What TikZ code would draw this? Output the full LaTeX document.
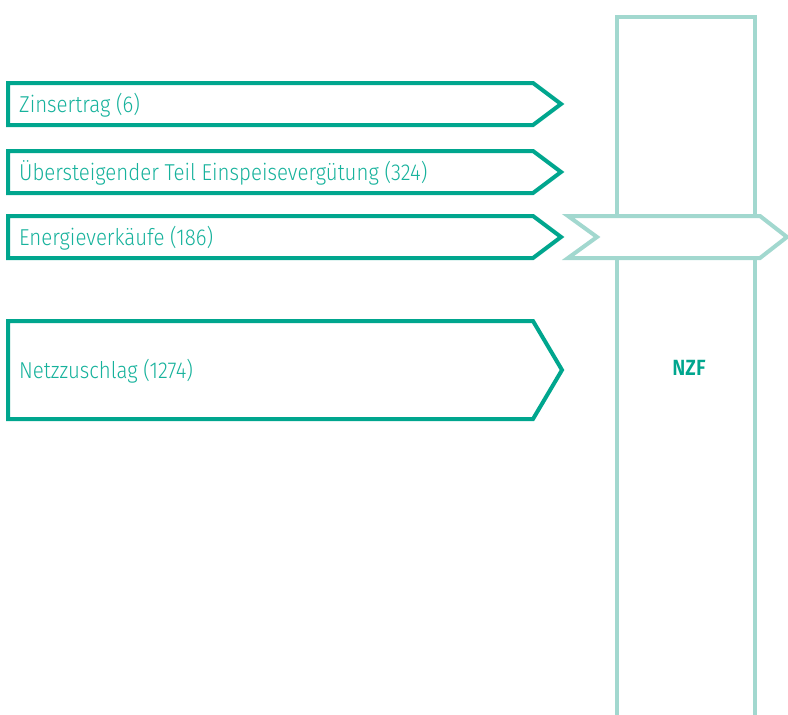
\documentclass[tikz,border=0pt]{standalone}
\usepackage{fontspec}
\setmainfont{Fira Sans}[UprightFont={* Light}, BoldFont={* SemiBold}, FakeStretch=0.89]
\definecolor{nzfdark}{RGB}{0,166,142}
\definecolor{nzflight}{RGB}{162,216,207}
\definecolor{nzftext}{RGB}{22,178,156}
\tikzset{
  inflow/.style={draw=nzfdark, line width=4pt, fill=white, line join=miter},
  outflow/.style={draw=nzflight, line width=4pt, fill=white, line join=miter},
  flowlabel/.style={anchor=base west, inner sep=0pt, text=nzftext, font=\fontsize{23}{25}\selectfont},
}
\begin{document}
\begin{tikzpicture}[x=1pt, y=-1pt]
  \useasboundingbox (0,0) rectangle (788,715);
  \clip (0,0) rectangle (788,715);

  % Column
  \coordinate (CT) at (617,17);
  \coordinate (CU) at (755,17);
  \draw[outflow, fill=none] (617,740) -- (CT) -- (CU) -- (755,740);
  \node[inner sep=0pt, text=nzfdark, font=\bfseries\fontsize{22}{24}\selectfont] (nzf) at (689,368) {NZF};

  % Outgoing arrow
  \draw[outflow] (568,216) -- (760,216) -- (787,237) -- (760,258) -- (568,258) -- (597,237) -- cycle;

  % Incoming arrows
  \draw[inflow] (8,83) -- (533,83) -- (561,104) -- (533,125) -- (8,125) -- cycle;
  \node[flowlabel] (zins) at (19,112) {Zinsertrag (6)};

  \draw[inflow] (8,151) -- (533,151) -- (561,172) -- (533,193) -- (8,193) -- cycle;
  \node[flowlabel] (einsp) at (19,180) {Übersteigender Teil Einspeisevergütung (324)};

  \draw[inflow] (8,216) -- (533,216) -- (561,237) -- (533,258) -- (8,258) -- cycle;
  \node[flowlabel] (energie) at (19,245) {Energieverkäufe (186)};

  \draw[inflow] (8,321) -- (533,321) -- (562,370) -- (533,419) -- (8,419) -- cycle;
  \node[flowlabel] (netz) at (19,378) {Netzzuschlag (1274)};
\end{tikzpicture}
\end{document}
